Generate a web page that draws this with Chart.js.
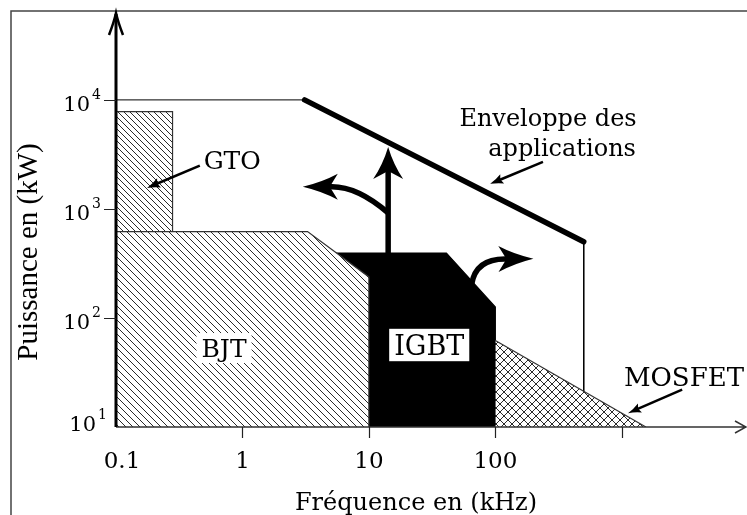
<!DOCTYPE html>
<html lang="fr">
<head>
<meta charset="UTF-8">
<title>Domaines d'utilisation des composants de puissance</title>
<script src="https://cdn.jsdelivr.net/npm/chart.js@4"></script>
<style>
  html, body { margin: 0; padding: 0; background: #fff; }
  canvas { display: block; }
</style>
</head>
<body>
<canvas id="chart" width="747" height="515"></canvas>
<script>
// axes : frequence (kHz) / puissance (kW), log-log
const freqTicks = [0.1, 1, 10, 100, 1000];
const freqTickLabels = ['0.1', '1', '10', '100', ''];
const powerTicks = [10, 100, 1000, 10000];
const powerExponents = ['1', '2', '3', '4'];

// zones des composants (contour superieur, rempli jusqu'a l'axe)
const gtoFreq = [0.1, 0.28, 0.28];
const gtoPower = [7800, 7800, 10];
const bjtFreq = [0.1, 3.27, 10, 10];
const bjtPower = [620, 620, 238, 10];
const igbtFreq = [5, 41, 100, 100];
const igbtPower = [394, 394, 126, 10];
const mosfetFreq = [100, 1550];
const mosfetPower = [62, 10];

// enveloppe des applications
const envFreq = [0.1, 3.1, 500, 500];
const envPower = [10000, 10000, 500, 10];

// fleches (kHz, kW)
const upArrow = [[14.2, 394], [14.2, 3700]];
const leftArrow = [[14.2, 920], [8.2, 1600], [5.1, 1600], [3.0, 1600]];
const rightArrow = [[65, 205], [70, 348], [119, 348], [200, 350]];
const gtoPointer = [[0.46, 2500], [0.176, 1560]];
const envPointer = [[238, 2700], [91, 1700]];
const mosfetPointer = [[3000, 22], [1120, 13.4]];

const labels = [
  { text: 'GTO', at: [0.83, 2800], size: 25 },
  { text: 'BJT', at: [0.715, 53], size: 25, box: true },
  { text: 'IGBT', at: [30, 56.5], size: 27, box: true },
  { text: 'MOSFET', at: [3100, 28.8], size: 26 },
  { text: 'Enveloppe des', at: [261, 6984], size: 24 },
  { text: 'applications', at: [337, 3707], size: 24 }
];

const SERIF = '"DejaVu Serif", serif';

function points(xs, ys) {
  return xs.map((x, i) => ({ x: x, y: ys[i] }));
}

// motif de hachures, fond blanc opaque
function hatch(step, cross) {
  const c = document.createElement('canvas');
  c.width = c.height = step;
  const g = c.getContext('2d');
  g.fillStyle = '#fff';
  g.fillRect(0, 0, step, step);
  g.strokeStyle = '#2a2a2a';
  g.lineWidth = 1;
  g.beginPath();
  for (let k = -1; k <= 1; k++) {
    g.moveTo(k * step, 0);
    g.lineTo(k * step + step, step);
    if (cross) {
      g.moveTo(k * step, step);
      g.lineTo(k * step + step, 0);
    }
  }
  g.stroke();
  return g.createPattern(c, 'repeat');
}

function toPx(chart, p) {
  return { x: chart.scales.x.getPixelForValue(p[0]), y: chart.scales.y.getPixelForValue(p[1]) };
}

// tete de fleche pleine, legerement concave
function head(ctx, tip, from, len, half, notch) {
  const a = Math.atan2(tip.y - from.y, tip.x - from.x);
  ctx.save();
  ctx.translate(tip.x, tip.y);
  ctx.rotate(a);
  ctx.beginPath();
  ctx.moveTo(0, 0);
  ctx.quadraticCurveTo(-len * 0.55, -half * 0.35, -len, -half);
  ctx.lineTo(-len + notch, 0);
  ctx.lineTo(-len, half);
  ctx.quadraticCurveTo(-len * 0.55, half * 0.35, 0, 0);
  ctx.closePath();
  ctx.fill();
  ctx.restore();
}

function backOff(tip, from, d) {
  const dx = tip.x - from.x, dy = tip.y - from.y;
  const l = Math.hypot(dx, dy);
  return { x: tip.x - dx / l * d, y: tip.y - dy / l * d };
}

function straightArrow(ctx, chart, pts, width, len, half, notch) {
  const a = toPx(chart, pts[0]), b = toPx(chart, pts[1]);
  const e = backOff(b, a, len - notch - 1);
  ctx.lineWidth = width;
  ctx.beginPath();
  ctx.moveTo(a.x, a.y);
  ctx.lineTo(e.x, e.y);
  ctx.stroke();
  head(ctx, b, a, len, half, notch);
}

function curvedArrow(ctx, chart, pts, width, len, half, notch) {
  const p = pts.map(q => toPx(chart, q));
  const e = backOff(p[3], p[2], len - notch - 1);
  ctx.lineWidth = width;
  ctx.beginPath();
  ctx.moveTo(p[0].x, p[0].y);
  ctx.quadraticCurveTo(p[1].x, p[1].y, p[2].x, p[2].y);
  ctx.lineTo(e.x, e.y);
  ctx.stroke();
  head(ctx, p[3], p[2], len, half, notch);
}

const diagram = {
  id: 'diagram',
  beforeDraw(chart) {
    const ctx = chart.ctx;
    ctx.save();
    ctx.fillStyle = '#fff';
    ctx.fillRect(0, 0, chart.width, chart.height);
    // cadre
    ctx.strokeStyle = '#444';
    ctx.lineWidth = 1.5;
    ctx.beginPath();
    ctx.moveTo(11, chart.height);
    ctx.lineTo(11, 11);
    ctx.lineTo(chart.width, 11);
    ctx.stroke();
    ctx.restore();
  },
  afterDatasetsDraw(chart) {
    const ctx = chart.ctx;
    const area = chart.chartArea;
    const xs = chart.scales.x, ys = chart.scales.y;
    const x0 = xs.getPixelForValue(freqTicks[0]);
    const y0 = ys.getPixelForValue(powerTicks[0]);
    ctx.save();
    ctx.lineCap = 'butt';

    // axe des frequences
    const xEnd = area.right + 10;
    ctx.strokeStyle = '#333';
    ctx.lineWidth = 1.5;
    ctx.beginPath();
    ctx.moveTo(x0, y0);
    ctx.lineTo(xEnd, y0);
    ctx.moveTo(xEnd - 11, y0 - 6);
    ctx.lineTo(xEnd, y0);
    ctx.lineTo(xEnd - 11, y0 + 6);
    ctx.stroke();

    // axe des puissances
    ctx.strokeStyle = '#000';
    ctx.lineWidth = 3;
    ctx.beginPath();
    ctx.moveTo(x0, y0);
    ctx.lineTo(x0, area.top + 2);
    ctx.stroke();
    ctx.lineWidth = 2.5;
    ctx.beginPath();
    ctx.moveTo(x0 - 7, area.top + 23);
    ctx.quadraticCurveTo(x0 - 2, area.top + 10, x0, area.top + 1);
    ctx.quadraticCurveTo(x0 + 2, area.top + 10, x0 + 7, area.top + 23);
    ctx.stroke();

    // graduations
    ctx.strokeStyle = '#222';
    ctx.lineWidth = 1.2;
    ctx.beginPath();
    freqTicks.slice(1).forEach(v => {
      const x = Math.round(xs.getPixelForValue(v)) + 0.5;
      ctx.moveTo(x, y0);
      ctx.lineTo(x, y0 + 11);
    });
    powerTicks.slice(1).forEach(v => {
      const y = Math.round(ys.getPixelForValue(v)) + 0.5;
      ctx.moveTo(x0 - 12, y);
      ctx.lineTo(x0, y);
    });
    ctx.stroke();

    ctx.fillStyle = '#000';
    ctx.font = '23px ' + SERIF;
    ctx.textAlign = 'center';
    ctx.textBaseline = 'alphabetic';
    freqTicks.forEach((v, i) => {
      const shift = i === 0 ? 6 : 0;
      ctx.fillText(freqTickLabels[i], xs.getPixelForValue(v) + shift, y0 + 41);
    });

    powerTicks.forEach((v, i) => {
      const y = ys.getPixelForValue(v);
      const first = i === 0;
      const shift = first ? 6 : 0;
      const lift = first ? 7 : 0;
      ctx.font = '21px ' + SERIF;
      ctx.textAlign = 'right';
      ctx.fillText('10', 90 + shift, y + 11 - lift);
      ctx.font = '14px ' + SERIF;
      ctx.textAlign = 'left';
      ctx.fillText(powerExponents[i], 92 + shift, y - 1 - lift);
    });

    // titres des axes
    ctx.font = '24px ' + SERIF;
    ctx.textAlign = 'center';
    ctx.fillText('Fréquence en (kHz)', 416, 510);
    ctx.save();
    ctx.translate(37, 252);
    ctx.rotate(-Math.PI / 2);
    ctx.font = '29px "Liberation Serif", serif';
    ctx.fillText('Puissance en (kW)', 0, 0);
    ctx.restore();

    // fleches
    ctx.fillStyle = '#000';
    ctx.strokeStyle = '#000';
    straightArrow(ctx, chart, upArrow, 5.5, 32, 15, 8);
    curvedArrow(ctx, chart, leftArrow, 5.5, 35, 13, 8);
    curvedArrow(ctx, chart, rightArrow, 5.5, 35, 13, 8);
    straightArrow(ctx, chart, gtoPointer, 2.5, 13, 5, 2);
    straightArrow(ctx, chart, envPointer, 2.5, 13, 5, 2);
    straightArrow(ctx, chart, mosfetPointer, 2.5, 13, 5, 2);

    // etiquettes
    labels.forEach(l => {
      const p = toPx(chart, l.at);
      ctx.font = l.size + 'px ' + SERIF;
      ctx.textAlign = 'center';
      const w = ctx.measureText(l.text).width;
      if (l.box) {
        ctx.fillStyle = '#fff';
        ctx.fillRect(p.x - w / 2 - 5, p.y - l.size * 0.6, w + 10, l.size * 1.2);
      }
      ctx.fillStyle = '#000';
      ctx.fillText(l.text, p.x, p.y + l.size * 0.36);
    });
    ctx.restore();
  }
};

function zone(label, xs, ys, bg, border, order) {
  return {
    label: label,
    data: points(xs, ys),
    fill: 'start',
    backgroundColor: bg,
    borderColor: border,
    borderWidth: 1.2,
    pointRadius: 0,
    tension: 0,
    order: order
  };
}

const ctx = document.getElementById('chart').getContext('2d');
new Chart(ctx, {
  type: 'line',
  data: {
    datasets: [
      zone('GTO', gtoFreq, gtoPower, hatch(6, false), '#333', 10),
      {
        label: 'Enveloppe (limites)',
        data: points(envFreq, envPower),
        borderColor: '#000',
        borderWidth: 1,
        pointRadius: 0,
        fill: false,
        order: 9
      },
      zone('IGBT', igbtFreq, igbtPower, '#000', '#000', 8),
      zone('BJT', bjtFreq, bjtPower, hatch(7, false), '#333', 7),
      zone('MOSFET', mosfetFreq, mosfetPower, hatch(8, true), '#333', 6),
      {
        label: 'Enveloppe des applications',
        data: points(envFreq.slice(1, 3), envPower.slice(1, 3)),
        borderColor: '#000',
        borderWidth: 5.5,
        borderCapStyle: 'round',
        pointRadius: 0,
        fill: false,
        order: 1
      }
    ]
  },
  options: {
    responsive: false,
    animation: false,
    events: [],
    layout: { padding: { left: 116, right: 11, top: 12, bottom: 88 } },
    plugins: { legend: { display: false }, tooltip: { enabled: false } },
    scales: {
      x: { type: 'logarithmic', min: 0.1, max: 8000, bounds: 'data', display: false },
      y: { type: 'logarithmic', min: 10, max: 64000, bounds: 'data', display: false }
    }
  },
  plugins: [diagram]
});
</script>
</body>
</html>
